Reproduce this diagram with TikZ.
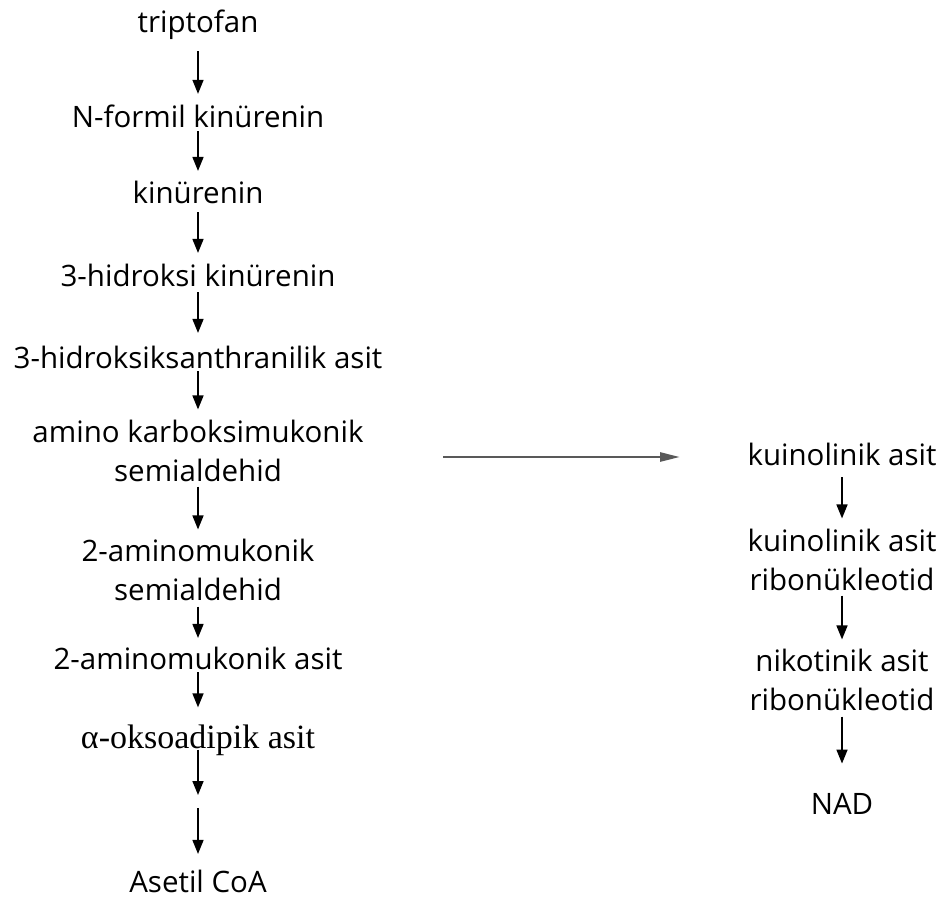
\documentclass[tikz,border=0pt]{standalone}
\usepackage{fontspec}
\setmainfont{Open Sans}
\newfontfamily\timesface{Liberation Serif}
\usetikzlibrary{arrows.meta}
\tikzset{
    metab/.style={font=\fontsize{29.5}{39}\selectfont, align=center, inner sep=0pt, text depth=0.25ex},
    rxn/.style={-{Triangle[length=14pt,width=11pt]}, line width=1.6pt},
    link/.style={-{Triangle[length=20pt,width=9pt]}, line width=2.6pt, gray!70!black},
}
\begin{document}
\begin{tikzpicture}[x=1pt,y=-1pt]
    \useasboundingbox (0,0) rectangle (944,900);
    %left chain
    \node[metab] (trp) at (198,22) {triptofan};
    \node[metab] (nfk) at (198,117) {N-formil kinürenin};
    \node[metab] (kyn) at (198,193) {kinürenin};
    \node[metab] (hk) at (198,276) {3-hidroksi kinürenin};
    \node[metab] (haa) at (198,358) {3-hidroksiksanthranilik asit};
    \node[metab] (acms) at (198,451) {amino karboksimukonik\\semialdehid};
    \node[metab] (ams) at (198,570) {2-aminomukonik\\semialdehid};
    \node[metab] (ama) at (198,659) {2-aminomukonik asit};
    \node[metab, font=\timesface\fontsize{34}{40}\selectfont] (oxo) at (198,737) {α-oksoadipik asit};
    \coordinate (mid) at (198,800);
    \node[metab] (coa) at (198,882) {Asetil CoA};
    %right chain
    \node[metab] (qa) at (842,455) {kuinolinik asit};
    \node[metab] (qamn) at (842,560) {kuinolinik asit\\ribonükleotid};
    \node[metab] (namn) at (842,680) {nikotinik asit\\ribonükleotid};
    \node[metab] (nad) at (842,805) {NAD};
    %draw arrows (from/to/gap at start/gap at end)
    \foreach \a/\b/\s/\e in {trp/nfk/17/11, nfk/kyn/2/10, kyn/hk/7/11, hk/haa/4/13,
            haa/acms/1/10, acms/ams/4/9, ams/ama/5/9, ama/oxo/1/17, oxo/mid/0/5, mid/coa/8/16,
            qa/qamn/10/10, qamn/namn/4/9, namn/nad/5/30}
        \draw [rxn, shorten <=\s pt, shorten >=\e pt] (\a) -- (\b);
    \coordinate (split) at (443,457);
    \draw [link] (split) -- (split -| 680,0);
\end{tikzpicture}
\end{document}
